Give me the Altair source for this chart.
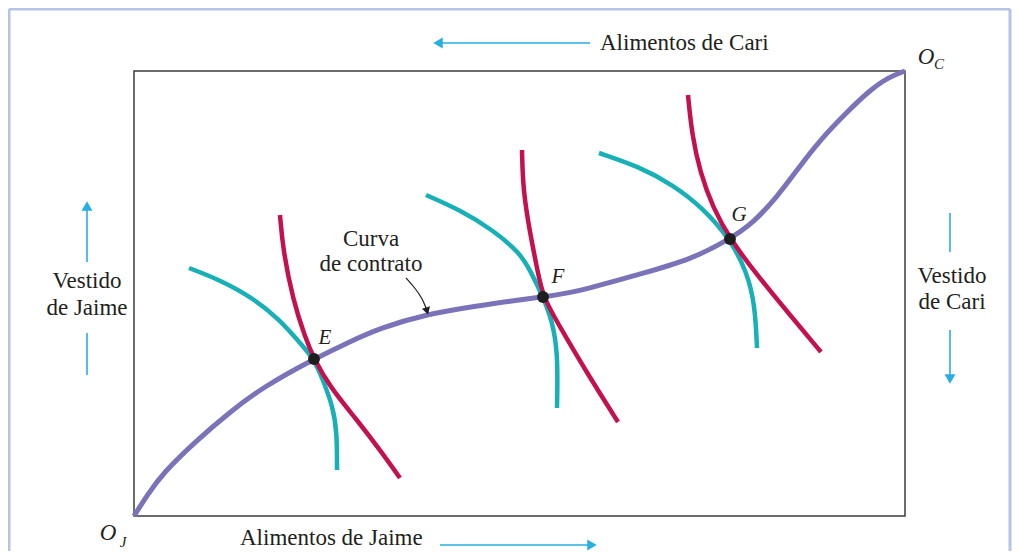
import altair as alt
import pandas as pd

# ---- data (units: food along x, clothing along y; Edgeworth box is 771 x 445) ----
box_x = [0, 771]
box_y = [0, 445]

# contract curve
cc_x = [0, 14, 29, 63, 96, 129, 180, 213, 246, 293, 343, 376, 409, 443, 506, 556, 596, 619, 643, 663, 686, 713, 736, 755, 771]
cc_y = [0, 22, 43, 76, 104, 129, 157, 173, 188, 202, 210, 215, 219, 224, 242, 256, 277, 293, 319, 346, 376, 404, 426, 439, 445]

# Jaime's indifference curves (teal)
t1_x = [55, 86, 119, 146, 166, 180, 189, 199, 203, 203]
t1_y = [248, 236, 218, 196, 173, 157, 136, 109, 83, 46]
t2_x = [292, 326, 359, 386, 396, 409, 418, 424, 423]
t2_y = [321, 306, 286, 263, 246, 219, 196, 163, 108]
t3_x = [465, 506, 539, 569, 596, 613, 621, 623]
t3_y = [363, 349, 331, 308, 277, 244, 211, 168]

# Cari's indifference curves (red)
r1_x = [146, 149, 159, 171, 180, 196, 223, 246, 266]
r1_y = [301, 266, 216, 179, 157, 129, 96, 66, 38]
r2_x = [388, 389, 396, 404, 409, 426, 453, 484]
r2_y = [366, 326, 283, 243, 219, 189, 143, 94]
r3_x = [554, 558, 566, 579, 596, 623, 656, 687]
r3_y = [421, 381, 344, 308, 277, 241, 201, 164]

# efficient points
pt_names = ["E", "F", "G"]
pt_x = [180, 409, 596]
pt_y = [157, 219, 277]
lab_x = [191, 424, 605]
lab_y = [178, 239, 301]

# frame & arrows
frame_x = [-125, -125, 876]
frame_x2 = [876, -125, 876]
frame_y = [507, 507, 507]
frame_y2 = [507, -35, -35]

shaft_x = [456, 306, -47, -47, 816, 816]
shaft_x2 = [306, 456, -47, -47, 816, 816]
shaft_y = [473, -29, 254, 183, 303, 186]
shaft_y2 = [473, -29, 309, 141, 264, 138]
head_x = [304, 458, -47, 816]
head_y = [473, -29, 310, 137]
head_shape = ["triangle-left", "triangle-right", "triangle-up", "triangle-down"]

curl_x = [272, 281, 288, 292]
curl_y = [238, 228, 218, 208]
curl_head_x = [293]
curl_head_y = [205]

# texts
center_txt = ["Vestido", "de Jaime", "Vestido", "de Cari", "Curva", "de contrato"]
center_x = [-47, -47, 818, 818, 237, 237]
center_y = [235, 208, 240, 214, 277, 252]
left_txt = ["Alimentos de Cari", "Alimentos de Jaime"]
left_x = [466, 106]
left_y = [466, -29]
orig_txt = ["O", "O"]
orig_x = [792, -26]
orig_y = [459, -17]
sub_txt = ["C", "J"]
sub_x = [805, -11]
sub_y = [452, -26]

# ---- chart ----
XS = alt.Scale(domain=[-126, 878], nice=False, zero=False)
YS = alt.Scale(domain=[-35, 508], nice=False, zero=False)
FONT = "Liberation Serif"
TXT = "#231f20"
BLUE = "#27aee3"


def ex(f="x"):
    return alt.X(f"{f}:Q", scale=XS, axis=None)


def ey(f="y"):
    return alt.Y(f"{f}:Q", scale=YS, axis=None)


def curve_df(xs, ys, name):
    return pd.DataFrame({"x": xs, "y": ys, "i": range(len(xs)), "s": name})


def curve_layer(df, color, width):
    return alt.Chart(df).mark_line(
        interpolate="basis", stroke=color, strokeWidth=width, strokeCap="butt"
    ).encode(x=ex(), y=ey(), order="i:Q", detail="s:N")


frame = alt.Chart(pd.DataFrame({"x": frame_x, "x2": frame_x2, "y": frame_y, "y2": frame_y2})).mark_rule(
    color="#b5c3e6", strokeWidth=3
).encode(x=ex(), x2="x2", y=ey(), y2="y2")

box = alt.Chart(pd.DataFrame({"x": [box_x[0]], "x2": [box_x[1]], "y": [box_y[0]], "y2": [box_y[1]]})).mark_rect(
    fillOpacity=0, stroke="#3c3c3c", strokeWidth=1.5
).encode(x=ex(), x2="x2", y=ey(), y2="y2")

teal = pd.concat([curve_df(t1_x, t1_y, "t1"), curve_df(t2_x, t2_y, "t2"), curve_df(t3_x, t3_y, "t3")])
red = pd.concat([curve_df(r1_x, r1_y, "r1"), curve_df(r2_x, r2_y, "r2"), curve_df(r3_x, r3_y, "r3")])
teal_l = curve_layer(teal, "#17b0b6", 4.5)
red_l = curve_layer(red, "#c5104e", 4.5)
cc_l = curve_layer(curve_df(cc_x, cc_y, "cc"), "#7a73b9", 5)

dots = alt.Chart(pd.DataFrame({"x": pt_x, "y": pt_y})).mark_circle(
    color="#1e1e1e", size=140, opacity=1
).encode(x=ex(), y=ey())

pt_labels = alt.Chart(pd.DataFrame({"x": lab_x, "y": lab_y, "t": pt_names})).mark_text(
    font=FONT, fontSize=21, fontStyle="italic", color=TXT, align="center", baseline="middle"
).encode(x=ex(), y=ey(), text="t:N")

shafts = alt.Chart(pd.DataFrame({"x": shaft_x, "x2": shaft_x2, "y": shaft_y, "y2": shaft_y2})).mark_rule(
    color=BLUE, strokeWidth=1.6
).encode(x=ex(), x2="x2", y=ey(), y2="y2")

heads = alt.Chart(pd.DataFrame({"x": head_x, "y": head_y, "s": head_shape})).mark_point(
    filled=True, color=BLUE, size=120, opacity=1
).encode(x=ex(), y=ey(), shape=alt.Shape("s:N", scale=None))

curl = alt.Chart(curve_df(curl_x, curl_y, "curl")).mark_line(
    interpolate="basis", stroke="#1e1e1e", strokeWidth=1.2
).encode(x=ex(), y=ey(), order="i:Q")

curl_head = alt.Chart(pd.DataFrame({"x": curl_head_x, "y": curl_head_y})).mark_point(
    filled=True, color="#1e1e1e", size=70, shape="triangle-down", angle=344, opacity=1
).encode(x=ex(), y=ey())

center_l = alt.Chart(pd.DataFrame({"x": center_x, "y": center_y, "t": center_txt})).mark_text(
    font=FONT, fontSize=23, color=TXT, align="center", baseline="middle"
).encode(x=ex(), y=ey(), text="t:N")

left_l = alt.Chart(pd.DataFrame({"x": left_x, "y": left_y, "t": left_txt})).mark_text(
    font=FONT, fontSize=23, color=TXT, align="left", baseline="alphabetic"
).encode(x=ex(), y=ey(), text="t:N")

orig_l = alt.Chart(pd.DataFrame({"x": orig_x, "y": orig_y, "t": orig_txt})).mark_text(
    font=FONT, fontSize=23, fontStyle="italic", color=TXT, align="center", baseline="middle"
).encode(x=ex(), y=ey(), text="t:N")

sub_l = alt.Chart(pd.DataFrame({"x": sub_x, "y": sub_y, "t": sub_txt})).mark_text(
    font=FONT, fontSize=15, fontStyle="italic", color=TXT, align="center", baseline="middle"
).encode(x=ex(), y=ey(), text="t:N")

chart = alt.layer(
    frame, box, teal_l, red_l, cc_l, dots, pt_labels, shafts, heads, curl, curl_head,
    center_l, left_l, orig_l, sub_l
).properties(
    width=1004, height=543, padding=0, autosize=alt.AutoSizeParams(type="none"),
    background="white"
).configure_view(stroke=None)

chart.save("out.html", embed_options={"renderer": "svg", "actions": False})
